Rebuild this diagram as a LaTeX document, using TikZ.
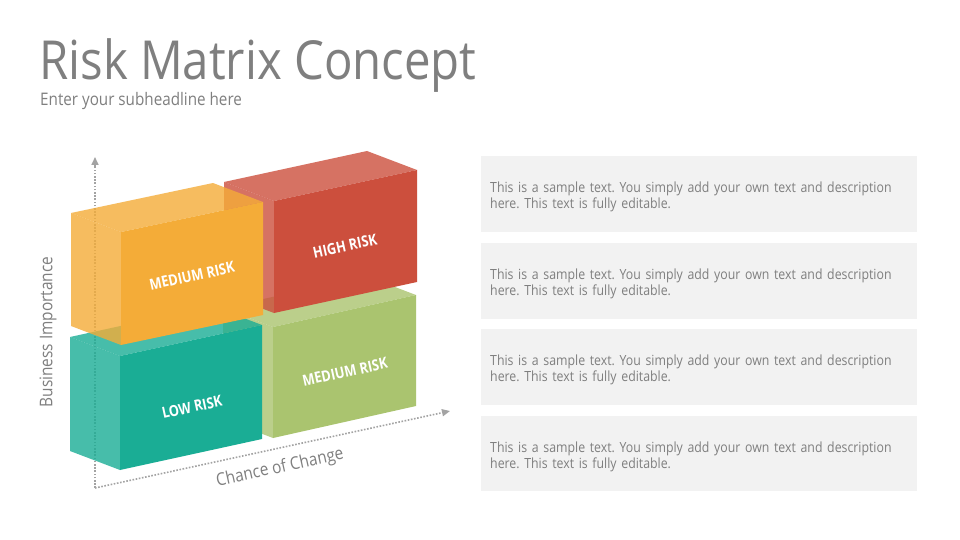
\documentclass[tikz,border=0pt]{standalone}
\usepackage{fontspec}
\setmainfont{Open Sans}[FakeStretch=0.88]
\newfontfamily\condfont{Open Sans}[FakeStretch=0.84]
\usetikzlibrary{arrows.meta}
\frenchspacing
\definecolor{txtgray}{HTML}{7F7F7F}
\definecolor{axisgray}{HTML}{A3A3A3}
\definecolor{panelgray}{HTML}{F2F2F2}
\definecolor{tealc}{HTML}{1AAD95}
\definecolor{orangec}{HTML}{F4AC38}
\definecolor{redc}{HTML}{CC4F3D}
\definecolor{greenc}{HTML}{AAC46F}
\tikzset{
  axisline/.style={axisgray, line width=1.6pt, dash pattern=on 1.6pt off 1.6pt,
    -{Triangle[length=8pt,width=7pt]}},
  axislabel/.style={txtgray, font=\fontsize{17.5}{19}\selectfont, inner sep=0pt},
  boxlabel/.style={white, font=\condfont\bfseries\fontsize{15.3}{17}\selectfont, inner sep=0pt},
  panel/.style={fill=panelgray, draw=none},
  paneltext/.style={txtgray, font=\fontsize{14}{16}\selectfont, align=left,
    text width=412pt, inner sep=0pt, anchor=west},
  sideface/.style={fill=#1, fill opacity=0.8, draw=none},
  frontface/.style={fill=#1, draw=none}
}
% #1,#2 front-top-left; #3,#4 width vector; #5 height; #6 colour
\newcommand\riskcube[6]{%
  \fill[sideface=#6] (#1,#2) -- ++(-50,-19) -- ++(0,#5) -- ++(50,19) -- cycle;
  \fill[sideface=#6] (#1,#2) -- ++(-50,-19) -- ++(#3,#4) -- ++(50,19) -- cycle;
  \fill[frontface=#6] (#1,#2) -- ++(#3,#4) -- ++(0,#5) -- ++(-#3,-#4) -- cycle;
}
\begin{document}
\begin{tikzpicture}[x=1pt,y=-1pt]
\useasboundingbox[fill=white] (0,0) rectangle (960,540);

% title
\node[txtgray, anchor=base west, inner sep=0pt, font=\fontsize{53.8}{60}\selectfont] (title) at (39,80) {Risk Matrix Concept};
\node[txtgray, anchor=base west, inner sep=0pt, font=\fontsize{17.3}{20}\selectfont] (subtitle) at (40,106) {Enter your subheadline here};

% axes
\coordinate (origin) at (95,488);
\coordinate (ytip) at (95,157);
\coordinate (xtip) at (450,411);
\draw[axisline] (origin) -- (ytip);
\draw[axisline] (origin) -- (xtip);
\node[axislabel, rotate=90] (ylabel) at (48,332) {Business Importance};
\node[axislabel, rotate=12.5] (xlabel) at (280,468) {Chance of Change};

% cubes (back to front)
\riskcube{273}{327}{143}{-32}{111}{greenc}
\riskcube{274}{201}{143}{-31}{112}{redc}
\riskcube{120}{356}{142}{-31}{114}{tealc}
\riskcube{121}{232}{142}{-30}{113}{orangec}

\node[boxlabel, rotate=12.3] (medtop) at (192,276) {MEDIUM RISK};
\node[boxlabel, rotate=12.3] (high) at (345,246) {HIGH RISK};
\node[boxlabel, rotate=12.3] (low) at (192,407) {LOW RISK};
\node[boxlabel, rotate=12.3] (medbot) at (345,372) {MEDIUM RISK};

% panels
\foreach \i/\top/\bot in {1/156/232, 2/243/319, 3/329/405, 4/416/491}{
  \fill[panel] (481,\top) rectangle (917,\bot);
  \node[paneltext] (text\i) at (490,{(\top+\bot)/2+3}) {This is a sample text. You simply add your own text and description here. This text is fully editable.};
}
\end{tikzpicture}
\end{document}
